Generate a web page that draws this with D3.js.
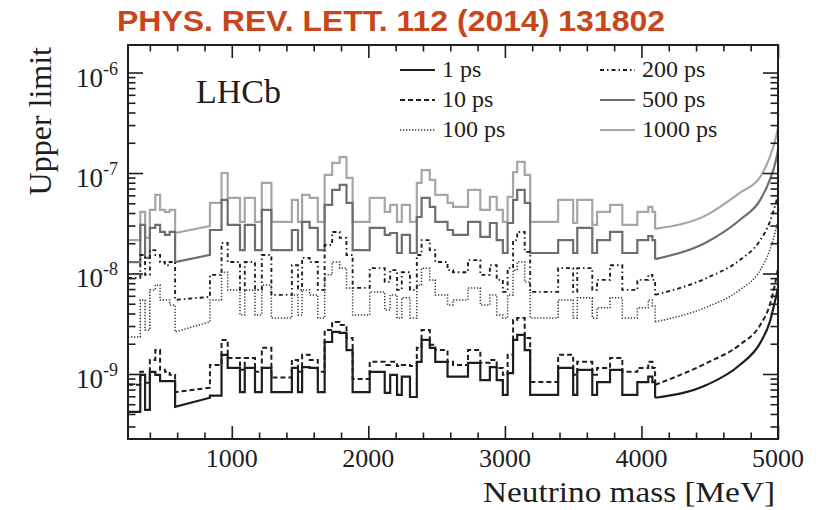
<!DOCTYPE html>
<html><head><meta charset="utf-8">
<script src="https://cdn.jsdelivr.net/npm/d3@7"></script>
<style>body{margin:0;background:#fff}</style>
</head><body><svg id="c" width="823" height="510"></svg>
<script>
// ---- data ----
const binEdges = [240, 330, 365, 400, 440, 475, 510, 545, 585, 840, 925, 970, 1060, 1095, 1170, 1220, 1290, 1440, 1485, 1515, 1570, 1630, 1680, 1735, 1790, 1840, 1885, 2010, 2120, 2160, 2210, 2245, 2305, 2355, 2390, 2450, 2490, 2580, 2620, 2730, 2820, 2890, 2940, 2985, 3020, 3060, 3090, 3145, 3185, 3390, 3500, 3530, 3640, 3675, 3770, 3860, 3970, 4050, 4080, 4100];
const rampBin = 8; // bin drawn as a sloped segment
const ul1ps = [4.2e-10, 9.8e-10, 4.4e-10, 1.05e-9, 9.8e-10, 8.5e-10, 8.5e-10, 8.5e-10, 4.7e-10, 6.1e-10,
 1.55e-9, 1.15e-9, 6.6e-10, 1.15e-9, 6.6e-10, 1.15e-9, 6.6e-10, 1.15e-9, 6.6e-10, 1.17e-9,
 1.15e-9, 6.6e-10, 2.08e-9, 2.62e-9, 2.56e-9, 1.73e-9, 6.6e-10, 1.05e-9, 6.5e-10, 9.8e-10,
 6.2e-10, 9.4e-10, 5.9e-10, 1.32e-9, 2.18e-9, 1.82e-9, 1.32e-9, 9.4e-10, 9.4e-10, 1.29e-9,
 8.7e-10, 1.17e-9, 8.7e-10, 6.2e-10, 1.02e-9, 2.18e-9, 2.45e-9, 1.73e-9, 6.2e-10, 1.15e-9,
 6.2e-10, 1.10e-9, 6.2e-10, 8.3e-10, 1.10e-9, 6.2e-10, 8.3e-10, 9.4e-10, 8.3e-10];
const ul10ps = [7.8e-10, 1.05e-9, 8.2e-10, 1.38e-9, 1.73e-9, 1.10e-9, 1.05e-9, 9.8e-10, 6.6e-10, 1.23e-9,
 2.18e-9, 1.44e-9, 1.10e-9, 1.44e-9, 1.05e-9, 1.82e-9, 9.2e-10, 1.38e-9, 1.05e-9, 1.55e-9,
 1.38e-9, 1.05e-9, 2.74e-9, 3.30e-9, 3.08e-9, 2.28e-9, 8.9e-10, 1.32e-9, 1.23e-9, 1.32e-9,
 1.20e-9, 1.23e-9, 1.20e-9, 1.82e-9, 2.74e-9, 1.95e-9, 1.73e-9, 1.32e-9, 1.23e-9, 1.73e-9,
 1.29e-9, 1.38e-9, 1.15e-9, 9.8e-10, 1.55e-9, 3.45e-9, 3.61e-9, 2.28e-9, 8.3e-10, 1.55e-9,
 9.8e-10, 1.32e-9, 9.8e-10, 1.15e-9, 1.44e-9, 1.05e-9, 1.15e-9, 1.32e-9, 1.15e-9];
const ul100ps = [2.34e-9, 5.46e-9, 2.74e-9, 6.87e-9, 7.70e-9, 5.46e-9, 5.46e-9, 4.87e-9, 2.62e-9, 5.46e-9,
 1.03e-8, 6.87e-9, 3.87e-9, 6.87e-9, 3.87e-9, 7.70e-9, 3.61e-9, 6.12e-9, 3.87e-9, 6.87e-9,
 6.12e-9, 3.61e-9, 9.69e-9, 1.30e-8, 1.13e-8, 7.19e-9, 3.87e-9, 6.56e-9, 4.34e-9, 6.12e-9,
 3.61e-9, 5.72e-9, 3.61e-9, 7.70e-9, 1.13e-8, 8.64e-9, 6.12e-9, 4.87e-9, 5.46e-9, 7.19e-9,
 4.87e-9, 6.12e-9, 3.87e-9, 3.61e-9, 6.12e-9, 1.08e-8, 1.30e-8, 8.25e-9, 3.61e-9, 5.46e-9,
 3.61e-9, 5.72e-9, 3.61e-9, 4.55e-9, 5.72e-9, 3.61e-9, 4.55e-9, 5.46e-9, 4.76e-9];
const ul200ps = [9.05e-9, 1.53e-8, 9.69e-9, 1.71e-8, 1.53e-8, 1.30e-8, 1.21e-8, 1.30e-8, 5.46e-9, 9.69e-9,
 2.01e-8, 1.30e-8, 6.87e-9, 1.30e-8, 6.87e-9, 1.53e-8, 6.12e-9, 1.21e-8, 6.87e-9, 1.43e-8,
 1.30e-8, 6.87e-9, 1.92e-8, 2.59e-8, 2.26e-8, 1.53e-8, 7.19e-9, 1.13e-8, 8.25e-9, 1.08e-8,
 6.87e-9, 1.03e-8, 6.87e-9, 1.53e-8, 2.15e-8, 1.71e-8, 1.30e-8, 1.08e-8, 1.03e-8, 1.36e-8,
 9.69e-9, 1.21e-8, 8.64e-9, 6.56e-9, 1.13e-8, 2.15e-8, 2.59e-8, 1.64e-8, 6.56e-9, 1.13e-8,
 6.56e-9, 1.13e-8, 6.87e-9, 8.64e-9, 1.21e-8, 6.87e-9, 8.64e-9, 9.69e-9, 8.64e-9];
const ul500ps = [1.30e-8, 3.04e-8, 1.43e-8, 2.84e-8, 3.04e-8, 2.59e-8, 2.42e-8, 2.59e-8, 1.30e-8, 2.71e-8,
 5.40e-8, 3.04e-8, 1.71e-8, 3.04e-8, 1.71e-8, 4.29e-8, 1.71e-8, 2.71e-8, 1.71e-8, 3.26e-8,
 2.84e-8, 1.71e-8, 4.81e-8, 6.79e-8, 7.62e-8, 5.04e-8, 1.71e-8, 2.84e-8, 2.42e-8, 2.53e-8,
 1.60e-8, 2.42e-8, 1.60e-8, 3.65e-8, 5.65e-8, 4.60e-8, 3.26e-8, 2.71e-8, 2.42e-8, 3.26e-8,
 2.31e-8, 3.18e-8, 2.15e-8, 1.60e-8, 3.18e-8, 5.40e-8, 6.79e-8, 5.04e-8, 1.60e-8, 2.15e-8,
 1.60e-8, 2.84e-8, 1.60e-8, 2.15e-8, 2.59e-8, 1.60e-8, 2.15e-8, 2.36e-8, 2.15e-8];
const ul1000ps = [2.15e-8, 4.10e-8, 2.26e-8, 4.29e-8, 6.05e-8, 4.29e-8, 4.10e-8, 4.29e-8, 2.53e-8, 5.04e-8,
 1.00e-7, 5.65e-8, 3.26e-8, 5.65e-8, 3.26e-8, 7.97e-8, 3.26e-8, 5.40e-8, 3.26e-8, 6.05e-8,
 5.65e-8, 3.26e-8, 9.58e-8, 1.26e-7, 1.44e-7, 8.94e-8, 3.26e-8, 5.65e-8, 4.10e-8, 4.81e-8,
 3.26e-8, 4.81e-8, 3.26e-8, 7.97e-8, 1.07e-7, 8.54e-8, 6.05e-8, 5.04e-8, 4.60e-8, 6.79e-8,
 4.29e-8, 5.78e-8, 4.29e-8, 3.26e-8, 5.78e-8, 1.02e-7, 1.29e-7, 9.58e-8, 3.26e-8, 5.40e-8,
 3.18e-8, 5.40e-8, 3.04e-8, 4.10e-8, 4.81e-8, 3.04e-8, 4.10e-8, 4.60e-8, 4.10e-8];
// value at the right end of the sloped bin, per series (1,10,100,200,500,1000 ps)
const rampEnd = [5.8e-10, 7.3e-10, 3.3e-9, 5.85e-9, 1.53e-8, 2.97e-8];
// smooth high-mass part
const tailMass = [4100, 4480, 4720, 4870, 4940, 4980, 5000];
const tail1ps = [5.8e-10, 7.8e-10, 1.23e-9, 2.04e-9, 3.30e-9, 5.46e-9, 7.19e-9];
const tail10ps = [7.8e-10, 1.29e-9, 1.95e-9, 3.08e-9, 4.87e-9, 8.07e-9, 1.13e-8];
const tail100ps = [3.30e-9, 4.65e-9, 6.87e-9, 1.08e-8, 1.71e-8, 2.59e-8, 3.41e-8];
const tail200ps = [6.12e-9, 9.05e-9, 1.36e-8, 2.15e-8, 3.26e-8, 4.81e-8, 6.05e-8];
const tail500ps = [1.39e-8, 2.06e-8, 3.41e-8, 5.40e-8, 8.54e-8, 1.26e-7, 1.70e-7];
const tail1000ps = [2.78e-8, 3.83e-8, 6.34e-8, 9.15e-8, 1.44e-7, 2.13e-7, 2.81e-7];
const seriesNames = ["1 ps", "10 ps", "100 ps", "200 ps", "500 ps", "1000 ps"];
const xTickValues = [1000, 2000, 3000, 4000, 5000];
const yTickExponents = [-9, -8, -7, -6];

// ---- layout / style ----
const L = 128, R = 778, T = 45, B = 439;
const ink = "#1e1e1e";
const styles = [
  {color: "#1e1e1e", width: 2.2, dash: null},
  {color: "#1e1e1e", width: 2.0, dash: "5,3"},
  {color: "#3a3a3a", width: 1.5, dash: "1.3,1.7"},
  {color: "#1e1e1e", width: 1.9, dash: "4,3,1.5,3"},
  {color: "#6e6e6e", width: 2.2, dash: null},
  {color: "#a6a6a6", width: 2.2, dash: null}
];
const values = [ul1ps, ul10ps, ul100ps, ul200ps, ul500ps, ul1000ps];
const tails = [tail1ps, tail10ps, tail100ps, tail200ps, tail500ps, tail1000ps];

const svg = d3.select("#c");
const x = d3.scaleLinear().domain([240, 5000]).range([L, R]);
const y = d3.scaleLog().domain([2.254e-10, 1.879e-6]).range([B, T]);

svg.append("text").attr("x", 117).attr("y", 31)
  .attr("font-family", "'Liberation Sans Narrow','Liberation Sans',Arial,sans-serif")
  .attr("font-weight", "bold").attr("font-size", 29).attr("fill", "#c8461c")
  .attr("textLength", 548).attr("lengthAdjust", "spacingAndGlyphs")
  .text("PHYS. REV. LETT. 112 (2014) 131802");

svg.append("clipPath").attr("id", "clip").append("rect")
  .attr("x", L).attr("y", T).attr("width", R - L).attr("height", B - T);

const g = svg.append("g").attr("clip-path", "url(#clip)");
const lineLin = d3.line().x(d => x(d[0])).y(d => y(d[1]));
const lineSmooth = d3.line().x(d => x(d[0])).y(d => y(d[1])).curve(d3.curveMonotoneX);

const order = [5, 4, 3, 2, 1, 0];
order.forEach(s => {
  const v = values[s];
  const pts = [];
  for (let i = 0; i < v.length; i++) {
    pts.push([binEdges[i], v[i]]);
    pts.push([binEdges[i + 1], i === rampBin ? rampEnd[s] : v[i]]);
  }
  pts.push([tailMass[0], tails[s][0]]);
  const st = styles[s];
  const p1 = g.append("path").attr("d", lineLin(pts)).attr("fill", "none")
    .attr("stroke", st.color).attr("stroke-width", st.width).attr("stroke-linejoin", "miter");
  const tp = tailMass.map((m, i) => [m, tails[s][i]]);
  const p2 = g.append("path").attr("d", lineSmooth(tp)).attr("fill", "none")
    .attr("stroke", st.color).attr("stroke-width", st.width);
  if (st.dash) { p1.attr("stroke-dasharray", st.dash); p2.attr("stroke-dasharray", st.dash); }
});

// ---- axes (ticks inside the frame) ----
const xMinor = d3.range(400, 5000, 200).filter(v => v % 1000 !== 0);
function styleAxis(sel) {
  sel.selectAll(".domain").remove();
  sel.selectAll("line").attr("stroke", ink).attr("stroke-width", 1.6);
  sel.selectAll("text").remove();
}
svg.append("g").attr("transform", `translate(0,${B})`).call(d3.axisBottom(x).tickValues(xTickValues).tickSize(-13)).call(styleAxis);
svg.append("g").attr("transform", `translate(0,${B})`).call(d3.axisBottom(x).tickValues(xMinor).tickSize(-6.5)).call(styleAxis);
svg.append("g").attr("transform", `translate(0,${T})`).call(d3.axisTop(x).tickValues(xTickValues).tickSize(-13)).call(styleAxis);
svg.append("g").attr("transform", `translate(0,${T})`).call(d3.axisTop(x).tickValues(xMinor).tickSize(-6.5)).call(styleAxis);

const yMajor = [1e-9, 1e-8, 1e-7, 1e-6];
const yMinor = [];
for (let e = -10; e <= -6; e++) for (let k = 2; k <= 9; k++) {
  const v = k * Math.pow(10, e);
  if (v > y.domain()[0] && v < y.domain()[1]) yMinor.push(v);
}
svg.append("g").attr("transform", `translate(${L},0)`).call(d3.axisLeft(y).tickValues(yMajor).tickSize(-15)).call(styleAxis);
svg.append("g").attr("transform", `translate(${L},0)`).call(d3.axisLeft(y).tickValues(yMinor).tickSize(-7.5)).call(styleAxis);
svg.append("g").attr("transform", `translate(${R},0)`).call(d3.axisRight(y).tickValues(yMajor).tickSize(-15)).call(styleAxis);
svg.append("g").attr("transform", `translate(${R},0)`).call(d3.axisRight(y).tickValues(yMinor).tickSize(-7.5)).call(styleAxis);

svg.append("rect").attr("x", L).attr("y", T).attr("width", R - L).attr("height", B - T)
  .attr("fill", "none").attr("stroke", ink).attr("stroke-width", 2);

const serif = "'Liberation Serif','Times New Roman',serif";
// x tick labels
svg.selectAll(".xl").data(xTickValues).enter().append("text")
  .attr("x", d => x(d)).attr("y", 467).attr("text-anchor", "middle")
  .attr("font-family", serif).attr("font-size", 26).attr("fill", ink).text(d => d);
// y tick labels with superscript exponent
yTickExponents.forEach(e => {
  const yy = y(Math.pow(10, e));
  const t = svg.append("text").attr("x", 76).attr("y", yy + 14)
    .attr("font-family", serif).attr("font-size", 27).attr("fill", ink);
  t.append("tspan").text("10");
  t.append("tspan").attr("dy", -12).attr("font-size", 18).text(String(e));
});
// axis titles
svg.append("text").attr("x", 775).attr("y", 502).attr("text-anchor", "end")
  .attr("font-family", serif).attr("font-size", 30).attr("fill", ink)
  .attr("textLength", 292).attr("lengthAdjust", "spacingAndGlyphs").text("Neutrino mass [MeV]");
svg.append("text").attr("transform", "translate(51,47) rotate(-90)").attr("text-anchor", "end")
  .attr("font-family", serif).attr("font-size", 32).attr("fill", ink).text("Upper limit");
// LHCb label
svg.append("text").attr("x", 196).attr("y", 103).attr("font-family", serif)
  .attr("font-size", 34).attr("fill", ink).text("LHCb");

// legend
const legPos = [[400, 77], [400, 107], [400, 137], [600, 77], [600, 107], [600, 137]];
seriesNames.forEach((name, s) => {
  const [lx, ly] = legPos[s];
  const st = styles[s];
  const ln = svg.append("line").attr("x1", lx).attr("x2", lx + 35).attr("y1", ly - 7).attr("y2", ly - 7)
    .attr("stroke", st.color).attr("stroke-width", st.width);
  if (st.dash) ln.attr("stroke-dasharray", st.dash);
  svg.append("text").attr("x", lx + 42).attr("y", ly).attr("font-family", serif)
    .attr("font-size", 24).attr("fill", ink).text(name);
});
</script></body></html>
